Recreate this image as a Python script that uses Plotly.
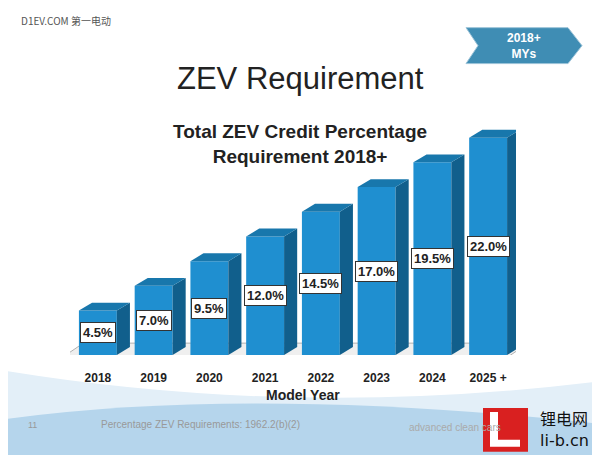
import plotly.graph_objects as go

years = ["2018", "2019", "2020", "2021", "2022", "2023", "2024", "2025 +"]
percent = [4.5, 7.0, 9.5, 12.0, 14.5, 17.0, 19.5, 22.0]
labels = ["4.5%", "7.0%", "9.5%", "12.0%", "14.5%", "17.0%", "19.5%", "22.0%"]

W, H = 600, 455
OFF = 8  # page body margin
L, R, T, B = 70 - OFF, 84 + OFF, 107.5 - OFF, 100 + OFF


def px(x):
    return (x - OFF - L) / (W - L - R)


def py(y):
    return (H - B - (y - OFF)) / (H - T - B)


xs = list(range(len(years)))
hw = 0.34
dx, dy = 0.235, 0.8

fig = go.Figure()
fig.add_trace(go.Bar(x=xs, y=percent, width=2 * hw, marker_color="#1f8fd0",
                     marker_line_width=0, hoverinfo="skip"))

shapes = []
# bottom swoosh
shapes.append(dict(type="path", xref="paper", yref="paper", layer="below",
                   path=f"M {px(0)},{py(470)} L {px(0)},{py(370)} Q {px(300)},{py(420)} {px(610)},{py(380)} L {px(610)},{py(470)} Z",
                   fillcolor="#e3eff8", line_width=0))
shapes.append(dict(type="path", xref="paper", yref="paper", layer="below",
                   path=f"M {px(0)},{py(470)} L {px(0)},{py(420)} Q {px(250)},{py(385)} {px(610)},{py(425)} L {px(610)},{py(470)} Z",
                   fillcolor="#b5d5ec", line_width=0))
# floor
shapes.append(dict(type="path", xref="x", yref="y", layer="below",
                   path="M -0.68,-0.4 L 7.3,-0.4 L 7.72,1.2 L -0.26,1.2 Z",
                   fillcolor="#efefef", line=dict(color="#b0b0b0", width=1)))
for i, v in enumerate(percent):
    r = i + hw
    l = i - hw
    shapes.append(dict(type="path", xref="x", yref="y",
                       path=f"M {r},0 L {r+dx},{dy} L {r+dx},{v+dy} L {r},{v} Z",
                       fillcolor="#115f8c", line_width=0))
    shapes.append(dict(type="path", xref="x", yref="y",
                       path=f"M {l},{v} L {l+dx},{v+dy} L {r+dx},{v+dy} L {r},{v} Z",
                       fillcolor="#1877ac", line_width=0))
# chevron badge
shapes.append(dict(type="path", xref="paper", yref="paper",
                   path=f"M {px(466)},{py(27)} L {px(568)},{py(27)} L {px(582)},{py(45)} L {px(568)},{py(63)} L {px(466)},{py(63)} L {px(478)},{py(45)} Z",
                   fillcolor="#3f8db4", line=dict(color="#9cc3d8", width=1)))
# logo box
shapes.append(dict(type="rect", xref="paper", yref="paper",
                   x0=px(483), x1=px(528), y0=py(452), y1=py(408),
                   fillcolor="#d92020", line_width=0))
shapes.append(dict(type="path", xref="paper", yref="paper",
                   path=f"M {px(490)},{py(412)} L {px(498)},{py(412)} L {px(498)},{py(440)} L {px(520)},{py(440)} L {px(520)},{py(447)} L {px(490)},{py(447)} Z",
                   fillcolor="white", line_width=0))

ann = []
for i, (v, t) in enumerate(zip(percent, labels)):
    ann.append(dict(x=i, y=v / 2, xref="x", yref="y", text=f"<b>{t}</b>",
                    font=dict(size=13, color="#222", family="Arial"), bgcolor="white",
                    bordercolor="#333", borderwidth=1, borderpad=2))
ann += [
    dict(x=px(300), y=py(78), text="ZEV Requirement", font=dict(size=31, color="#222", family="Arial")),
    dict(x=px(300), y=py(144), text="<b>Total ZEV Credit Percentage<br>Requirement 2018+</b>",
         font=dict(size=19, color="#222", family="Arial")),
    dict(x=px(303), y=py(395), text="<b>Model Year</b>", font=dict(size=14, color="#222", family="Arial")),
    dict(x=px(66), y=py(20), text="D1EV.COM 第一电动", font=dict(size=10, color="#555", family="Noto Sans CJK SC")),
    dict(x=px(524), y=py(45), text="<b>2018+<br>MYs</b>", font=dict(size=12, color="white", family="Arial")),
    dict(x=px(32), y=py(425), text="11", font=dict(size=9, color="#999", family="Arial")),
    dict(x=px(200), y=py(425), text="Percentage ZEV Requirements: 1962.2(b)(2)", font=dict(size=10, color="#999", family="Arial")),
    dict(x=px(455), y=py(428), text="advanced clean cars", font=dict(size=10, color="#aaa", family="Arial")),
    dict(x=px(564), y=py(418), text="锂电网", font=dict(size=16, color="#111", family="Noto Sans CJK SC")),
    dict(x=px(564), y=py(441), text="li-b.cn", font=dict(size=16, color="#111", family="DejaVu Sans")),
]
for a in ann:
    a.setdefault("xref", "paper")
    a.setdefault("yref", "paper")
    a["showarrow"] = False
    a["xanchor"] = "center"
    a["yanchor"] = "middle"

fig.update_layout(
    width=W, height=H, margin=dict(l=L, r=R, t=T, b=B),
    paper_bgcolor="white", plot_bgcolor="rgba(0,0,0,0)", showlegend=False,
    shapes=shapes, annotations=ann,
    xaxis=dict(range=[-0.5, 7.5], tickvals=xs, ticktext=[f"<b>{y}</b>" for y in years],
               showgrid=False, zeroline=False, showline=False, ticks="",
               ticklabelstandoff=14,
               tickfont=dict(size=12, color="#222", family="Arial")),
    yaxis=dict(range=[0, 25], visible=False),
)
fig.write_html("out.html")
